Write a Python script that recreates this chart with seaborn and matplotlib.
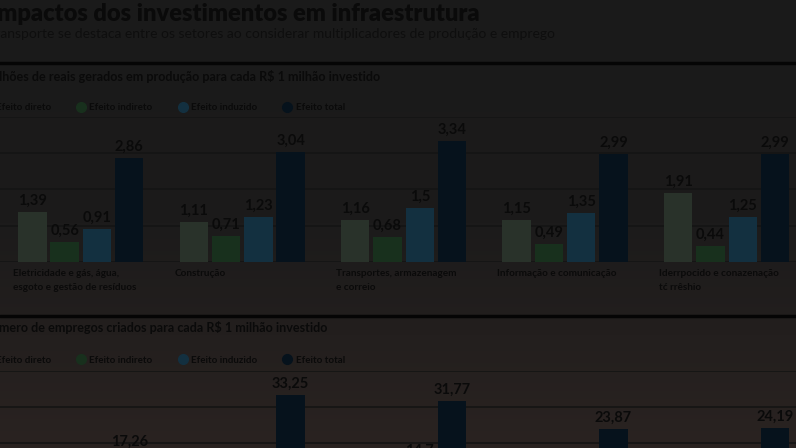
import numpy as np
import pandas as pd
import seaborn as sns
import matplotlib.pyplot as plt
from matplotlib.lines import Line2D

setores = ["Eletricidade e gás, água,\nesgoto e gestão de resíduos",
           "Construção",
           "Transportes, armazenagem\ne correio",
           "Informação e comunicação",
           "Iderrpocido e conazenação\ntć rrêshio"]
efeitos = ["Efeito direto", "Efeito indireto", "Efeito induzido", "Efeito total"]

# milhões de reais gerados em produção por R$ 1 milhão
prod_direto = [1.39, 1.11, 1.16, 1.15, 1.91]
prod_indireto = [0.56, 0.71, 0.68, 0.49, 0.44]
prod_induzido = [0.91, 1.23, 1.5, 1.35, 1.25]
prod_total = [2.86, 3.04, 3.34, 2.99, 2.99]

# empregos criados por R$ 1 milhão
emp_direto = [5.2, 13.1, 11.2, 8.1, 12.4]
emp_indireto = [4.1, 6.9, 5.9, 3.9, 4.6]
emp_induzido = [7.96, 13.25, 14.7, 11.87, 7.19]
emp_total = [17.26, 33.25, 31.77, 23.87, 24.19]

cores = ["#29322a", "#18301d", "#133040", "#06121c"]
txt = "#0a0a0a"
grade = "#141414"

sns.set_theme(style="white")
plt.rcParams['font.family'] = ['Lato', 'DejaVu Sans']


def montar(d, i, ind, t):
    linhas = []
    for vals, ef in zip([d, i, ind, t], efeitos):
        for s, v in zip(setores, vals):
            linhas.append({"setor": s, "efeito": ef, "valor": v})
    return pd.DataFrame(linhas)


def painel(ax, df, ymax, passo):
    sns.barplot(data=df, x="setor", y="valor", hue="efeito", order=setores,
                hue_order=efeitos, palette=cores, width=0.8, gap=0.12,
                saturation=1, legend=False, ax=ax, zorder=3,
                edgecolor="none", linewidth=0)
    ax.set_xlim(-0.5, 4.43)
    ax.set_ylim(0, ymax)
    ax.set_yticks(np.arange(0, ymax + 0.01, passo))
    ax.grid(axis="y", color=grade, linewidth=1.2, zorder=0)
    ax.set_facecolor("none")
    for sp in ax.spines.values():
        sp.set_visible(False)
    ax.set_xlabel("")
    ax.set_ylabel("")
    ax.set_xticks([])
    ax.tick_params(left=False, labelleft=False)
    for c in ax.containers:
        ax.bar_label(c, labels=[f"{v:g}".replace(".", ",") for v in c.datavalues],
                     padding=3, fontsize=10.5, fontweight="bold", color=txt)


fig = plt.figure(figsize=(7.96, 4.48), dpi=100)
fig.patch.set_facecolor("#1b1a1a")

# fundo escuro com leve degradê
bg = fig.add_axes([0, 0, 1, 1], zorder=-5)
grad = np.linspace(0, 1, 256)[:, None]
bg.imshow(grad, aspect="auto", cmap=sns.blend_palette(["#1a1a1a", "#1c1b1b", "#2a2321"], as_cmap=True),
          extent=[0, 1, 0, 1], origin="upper")
bg.axis("off")

ax1 = fig.add_axes([0, 1 - 262 / 448, 1, 145 / 448])
painel(ax1, montar(prod_direto, prod_indireto, prod_induzido, prod_total), 4, 1)
ax2 = fig.add_axes([0, 1 - 515 / 448, 1, 144 / 448])
painel(ax2, montar(emp_direto, emp_indireto, emp_induzido, emp_total), 40, 10)

for k, s in enumerate(setores):
    ax1.annotate(s, xy=(k - 0.42, 0), xycoords=("data", "axes fraction"),
                 xytext=(0, -5), textcoords="offset points", va="top", ha="left",
                 fontsize=7.2, fontweight="bold", color=txt, linespacing=1.75)

fig.text(-0.012, 0.968, "Impactos dos investimentos em infraestrutura", fontsize=17,
         fontweight="heavy", color=txt, va="center")
fig.text(-0.016, 0.924, "Transporte se destaca entre os setores ao considerar multiplicadores de produção e emprego",
         fontsize=10.0, fontweight="normal", color="#0e0e0e", va="center")

for y in [63, 316]:
    fig.add_artist(Line2D([0, 1], [1 - y / 448] * 2, color="#050505", linewidth=2.5))

fig.text(-0.02, 1 - 76 / 448, "Milhões de reais gerados em produção para cada R$ 1 milhão investido",
         fontsize=9.1, fontweight="bold", color=txt, va="center")
fig.text(-0.022, 1 - 327 / 448, "Número de empregos criados para cada R$ 1 milhão investido",
         fontsize=9.1, fontweight="bold", color=txt, va="center")

alcas = [Line2D([], [], marker="o", linestyle="", markersize=7, color=c) for c in cores]
for y in [108, 360]:
    fig.legend(alcas, efeitos, ncol=4, loc="center left", bbox_to_anchor=(-0.036, 1 - y / 448),
               frameon=False, handletextpad=0.1, columnspacing=2.35, handlelength=1.5,
               prop={"size": 7, "weight": "bold"}, labelcolor=txt)

fig.savefig("out.png", dpi=100, facecolor=fig.get_facecolor())
